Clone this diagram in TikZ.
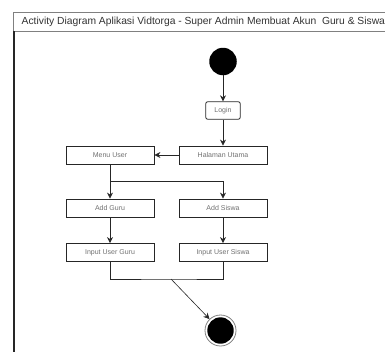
\documentclass[tikz,border=0pt]{standalone}
\usepackage{fontspec}
\setmainfont{Liberation Sans}
\usetikzlibrary{arrows.meta}
\definecolor{txtgray}{HTML}{707070}
\definecolor{framegray}{HTML}{808080}
\tikzset{
  actbox/.style={draw=black!85, line width=0.8pt, minimum width=88pt, minimum height=18pt, inner sep=0pt,
    font=\fontsize{7}{8}\selectfont, text=txtgray},
  flow/.style={draw=black!85, line width=0.8pt, -{Stealth[length=6pt,width=6pt]}},
  plain/.style={draw=black!85, line width=0.8pt},
}
\begin{document}
\begin{tikzpicture}[x=1pt,y=-1pt]
\useasboundingbox (0,0) rectangle (385,351);
\begin{scope}
\clip (0,0) rectangle (385,351);
% frame
\draw[framegray, line width=0.7pt, fill=white] (13.5,12) rectangle (400,31);
\draw[black!85, line width=1.8pt] (14,31) -- (14,360);
\node[anchor=west, inner sep=0pt, font=\fontsize{10.3}{12}\selectfont, text=black!80] (title) at (21.5,21.5)
  {Activity Diagram Aplikasi Vidtorga - Super Admin Membuat Akun\ \ Guru \& Siswa};
% nodes
\node[circle, fill=black, minimum size=27.5pt, inner sep=0pt] (start) at (223,61.5) {};
\node[actbox, rounded corners=2pt, minimum width=34.5pt, minimum height=17.5pt] (login) at (223,110.5) {Login};
\node[actbox] (halaman) at (223,155) {Halaman Utama};
\node[actbox] (menu) at (110,155) {Menu User};
\node[actbox] (addguru) at (110,208) {Add Guru};
\node[actbox] (addsiswa) at (223,208) {Add Siswa};
\node[actbox] (inguru) at (110,252.5) {Input User Guru};
\node[actbox] (insiswa) at (223,252.5) {Input User Siswa};
\node[circle, draw=framegray, line width=0.8pt, minimum size=31pt, inner sep=0pt] (end) at (220.5,330.5) {};
\fill[black] (end.center) circle (13.2pt);
\coordinate (split) at (110,181);
\coordinate (join) at (171,279);
% connectors
\draw[flow] (start) -- (login);
\draw[flow] (login) -- (halaman);
\draw[flow] (halaman) -- (menu);
\draw[flow] (menu) -- (addguru);
\draw[flow] (split) -| (addsiswa);
\draw[flow] (addguru) -- (inguru);
\draw[flow] (addsiswa) -- (insiswa);
\draw[plain] (inguru.south) |- (join) -| (insiswa.south);
\draw[flow, line width=0.6pt] (join) -- (end);
\end{scope}
\end{tikzpicture}
\end{document}
